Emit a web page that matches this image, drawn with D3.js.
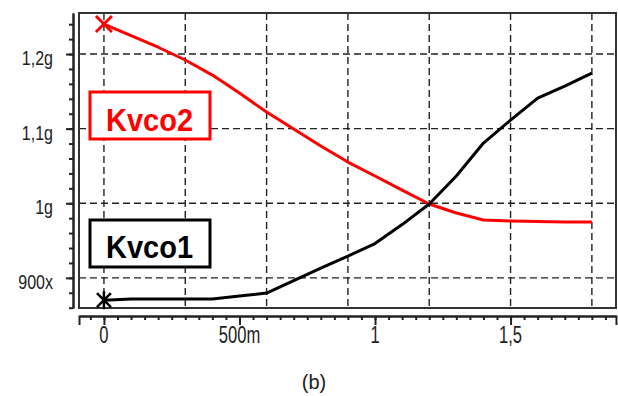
<!DOCTYPE html>
<html>
<head>
<meta charset="utf-8">
<script src="https://cdn.jsdelivr.net/npm/d3@7"></script>
<style>
  body { margin: 0; background: #fff; }
  svg { display: block; }
</style>
</head>
<body>
<div id="chart-area"></div>
<script>
// control voltage (V) and the two Kvco curves
const vctrl = [0, 0.1, 0.2, 0.3, 0.4, 0.5, 0.6, 0.7, 0.8, 0.9, 1.0, 1.1, 1.2, 1.3, 1.4, 1.5, 1.6, 1.7, 1.8]
const kvco1 = [0.870, 0.8716, 0.8716, 0.8716, 0.8716, 0.8756, 0.8796, 0.8964, 0.9131, 0.9292, 0.946,
  0.9714, 0.999, 1.0365, 1.0807, 1.1115, 1.141, 1.1571, 1.1745]
const kvco2 = [1.2402, 1.2247, 1.2091, 1.192, 1.1718, 1.1477, 1.1223, 1.0995, 1.0767, 1.0552, 1.0365,
  1.0177, 0.999, 0.9869, 0.9775, 0.9761, 0.9755, 0.975, 0.9748]

const xGrid = [0, 0.3, 0.6, 0.9, 1.2, 1.5, 1.8]
const xMajor = [0, 0.5, 1, 1.5]
const xTickLabels = ["0", "500m", "1", "1,5"]
const yGrid = [0.9, 1.0, 1.1, 1.2]
const yTickLabels = ["900x", "1g", "1,1g", "1,2g"]

const MARGIN = { LEFT: 79, TOP: 13 }
const WIDTH = 537
const HEIGHT = 295

const svg = d3.select("#chart-area").append("svg")
  .attr("width", 618)
  .attr("height", 396)

const g = svg.append("g")
  .attr("transform", `translate(${MARGIN.LEFT}, ${MARGIN.TOP})`)

const x = d3.scaleLinear().domain([-0.092, 1.889]).range([0, WIDTH])
const y = d3.scaleLinear().domain([0.8596, 1.255]).range([HEIGHT, 0])

// dashed grid
g.selectAll(".vgrid").data(xGrid).enter().append("line")
  .attr("x1", d => x(d)).attr("x2", d => x(d))
  .attr("y1", 0).attr("y2", HEIGHT)
  .attr("stroke", "#222").attr("stroke-width", 1.4)
  .attr("stroke-dasharray", "7,4")

g.selectAll(".hgrid").data(yGrid).enter().append("line")
  .attr("x1", 0).attr("x2", WIDTH)
  .attr("y1", d => y(d)).attr("y2", d => y(d))
  .attr("stroke", "#222").attr("stroke-width", 1.4)
  .attr("stroke-dasharray", "7,4")

// plot frame
g.append("rect")
  .attr("width", WIDTH).attr("height", HEIGHT)
  .attr("fill", "none").attr("stroke", "#333").attr("stroke-width", 2)

// Y axis, a little left of the frame
const yAxisGroup = g.append("g").attr("transform", "translate(-6, 0)")
yAxisGroup.call(d3.axisLeft(y)
  .tickValues(d3.range(0.86, 1.25, 0.02))
  .tickSize(4).tickSizeOuter(0).tickFormat(""))
yAxisGroup.append("g").call(d3.axisLeft(y)
  .tickValues(yGrid).tickSize(7).tickSizeOuter(0).tickFormat(""))
yAxisGroup.selectAll("path, line").attr("stroke", "#222").attr("stroke-width", 2)

g.selectAll(".ylab").data(yGrid).enter().append("text")
  .attr("transform", d => `translate(-26, ${y(d) + 11}) scale(0.8, 1)`)
  .attr("text-anchor", "end")
  .attr("font-family", "Liberation Sans, Arial, sans-serif")
  .attr("font-size", "20px")
  .attr("fill", "#222")
  .text((d, i) => yTickLabels[i])

// X axis, a little below the frame
const xAxisGroup = g.append("g").attr("transform", `translate(0, ${HEIGHT + 8})`)
xAxisGroup.call(d3.axisBottom(x)
  .tickValues(d3.range(-0.05, 1.86, 0.05))
  .tickSize(4).tickSizeOuter(9).tickFormat(""))
xAxisGroup.append("g").call(d3.axisBottom(x)
  .tickValues(xMajor).tickSize(9).tickSizeOuter(0).tickFormat(""))
xAxisGroup.selectAll("path, line").attr("stroke", "#222").attr("stroke-width", 2)

g.selectAll(".xlab").data(xMajor).enter().append("text")
  .attr("transform", d => `translate(${x(d)}, ${HEIGHT + 35}) scale(0.72, 1)`)
  .attr("text-anchor", "middle")
  .attr("font-family", "Liberation Sans, Arial, sans-serif")
  .attr("font-size", "23px")
  .attr("fill", "#222")
  .text((d, i) => xTickLabels[i])

// curves
const line = d3.line().x(d => x(d[0])).y(d => y(d[1]))

g.append("path")
  .datum(d3.zip(vctrl, kvco2))
  .attr("fill", "none").attr("stroke", "#ff0000").attr("stroke-width", 3)
  .attr("stroke-linejoin", "round")
  .attr("d", line)

g.append("path")
  .datum(d3.zip(vctrl, kvco1))
  .attr("fill", "none").attr("stroke", "#000").attr("stroke-width", 3)
  .attr("stroke-linejoin", "round")
  .attr("d", line)

// start markers
g.append("path")
  .attr("transform", `translate(${x(vctrl[0])}, ${y(kvco2[0])})`)
  .attr("d", "M-8,-8L8,8M-8,8L8,-8")
  .attr("stroke", "#ff0000").attr("stroke-width", 3)

g.append("path")
  .attr("transform", `translate(${x(vctrl[0])}, ${y(kvco1[0])})`)
  .attr("d", "M-7,-7L7,7M-7,7L7,-7M0,-9V9")
  .attr("stroke", "#000").attr("stroke-width", 2.5)

// labels in boxes
const labels = [
  { text: "Kvco2", color: "#ff0000", top: 92, base: 131 },
  { text: "Kvco1", color: "#000", top: 220, base: 258 }
]
labels.forEach(l => {
  svg.append("rect")
    .attr("x", 90).attr("y", l.top).attr("width", 120).attr("height", 47)
    .attr("fill", "#fff").attr("stroke", l.color).attr("stroke-width", 3)
  svg.append("text")
    .attr("x", 106).attr("y", l.base)
    .attr("textLength", 87).attr("lengthAdjust", "spacingAndGlyphs")
    .attr("font-family", "Liberation Sans, Arial, sans-serif")
    .attr("font-weight", "bold").attr("font-size", "32px")
    .attr("fill", l.color)
    .text(l.text)
})

// caption
svg.append("text")
  .attr("x", 314).attr("y", 389)
  .attr("text-anchor", "middle")
  .attr("font-family", "Liberation Sans, Arial, sans-serif")
  .attr("font-size", "20px")
  .attr("fill", "#222")
  .text("(b)")
</script>
</body>
</html>
